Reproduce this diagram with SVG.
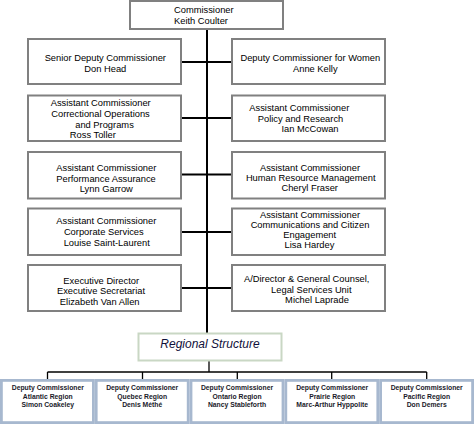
<svg xmlns="http://www.w3.org/2000/svg" width="474" height="424" viewBox="0 0 474 424">
<style>
.bx{fill:#fff;stroke:#808080;stroke-width:2}
.rg{fill:#fff;stroke:#c9d7c4;stroke-width:2}
.rb{fill:#fff;stroke:#a7b8cf;stroke-width:2.8}
.t{font-family:"Liberation Sans",Arial,sans-serif;font-size:9.33px;fill:#000;text-anchor:middle}
.ts{font-family:"Liberation Sans",Arial,sans-serif;font-size:9.33px;fill:#000}
.ti{font-family:"Liberation Sans",Arial,sans-serif;font-size:12px;font-style:italic;fill:#10103a;text-anchor:middle}
.tb{font-family:"Liberation Sans",Arial,sans-serif;font-size:6.8px;font-weight:bold;fill:#1a1a2a;text-anchor:middle}
.c{stroke:#000;stroke-width:2;fill:none}
.c2{stroke:#000;stroke-width:1.3;fill:none}
</style>
<rect width="474" height="424" fill="#fff"/>
<g id="connectors">
<line class="c" x1="207" y1="30" x2="207" y2="333"/>
<line class="c" x1="182" y1="62" x2="231" y2="62"/>
<line class="c" x1="182" y1="118" x2="231" y2="118"/>
<line class="c" x1="182" y1="174.5" x2="231" y2="174.5"/>
<line class="c" x1="182" y1="232" x2="231" y2="232"/>
<line class="c" x1="182" y1="288" x2="231" y2="288"/>
<line class="c2" x1="209" y1="361" x2="209" y2="372"/>
<line class="c2" x1="47.5" y1="372" x2="426.7" y2="372"/>
<line class="c2" x1="47.5" y1="372" x2="47.5" y2="380"/>
<line class="c2" x1="142.5" y1="372" x2="142.5" y2="380"/>
<line class="c2" x1="237.3" y1="372" x2="237.3" y2="380"/>
<line class="c2" x1="331.7" y1="372" x2="331.7" y2="380"/>
<line class="c2" x1="426.7" y1="372" x2="426.7" y2="380"/>
</g>
<g id="commissioner">
<rect class="bx" x="130" y="1" width="153" height="28"/>
<text class="ts" x="174" y="13">Commissioner</text>
<text class="ts" x="174" y="23.5">Keith Coulter</text>
</g>
<g id="senior-deputy">
<rect class="bx" x="28" y="39" width="153" height="45"/>
<text class="t" x="105.3" y="61">Senior Deputy Commissioner</text>
<text class="t" x="105.3" y="71.7">Don Head</text>
</g>
<g id="correctional-ops">
<rect class="bx" x="28" y="95.5" width="153" height="45.5"/>
<text class="t" x="100.7" y="105.5">Assistant Commissioner</text>
<text class="t" x="100.5" y="116.5">Correctional Operations</text>
<text class="t" x="104.5" y="127.8">and Programs</text>
<text class="t" x="92.8" y="138.3">Ross Toller</text>
</g>
<g id="performance">
<rect class="bx" x="28" y="152" width="153" height="46.5"/>
<text class="t" x="106.3" y="170.7">Assistant Commissioner</text>
<text class="t" x="106" y="181.5">Performance Assurance</text>
<text class="t" x="106.3" y="191.7">Lynn Garrow</text>
</g>
<g id="corporate">
<rect class="bx" x="28" y="208.5" width="153" height="46.5"/>
<text class="t" x="106.3" y="224.3">Assistant Commissioner</text>
<text class="t" x="103.8" y="235">Corporate Services</text>
<text class="t" x="106.7" y="245.7">Louise Saint-Laurent</text>
</g>
<g id="exec-director">
<rect class="bx" x="28" y="265" width="153" height="46"/>
<text class="t" x="101.2" y="284.3">Executive Director</text>
<text class="t" x="101" y="294.3">Executive Secretariat</text>
<text class="t" x="99.7" y="305">Elizabeth Van Allen</text>
</g>
<g id="deputy-women">
<rect class="bx" x="232" y="39" width="153" height="45"/>
<text class="t" x="310.3" y="60.7">Deputy Commissioner for Women</text>
<text class="t" x="315.3" y="71.7">Anne Kelly</text>
</g>
<g id="policy">
<rect class="bx" x="232" y="95.5" width="153" height="45.5"/>
<text class="t" x="299.3" y="111">Assistant Commissioner</text>
<text class="t" x="300.5" y="122">Policy and Research</text>
<text class="t" x="310" y="132.3">Ian McCowan</text>
</g>
<g id="hr">
<rect class="bx" x="232" y="152" width="153" height="46.5"/>
<text class="t" x="310" y="170.7">Assistant Commissioner</text>
<text class="t" x="310.7" y="180.7">Human Resource Management</text>
<text class="t" x="309.7" y="191">Cheryl Fraser</text>
</g>
<g id="communications">
<rect class="bx" x="232" y="208.5" width="153" height="46.5"/>
<text class="t" x="310" y="217.7">Assistant Commissioner</text>
<text class="t" x="310" y="227.7">Communications and Citizen</text>
<text class="t" x="309.7" y="238">Engagement</text>
<text class="t" x="309.5" y="248.3">Lisa Hardey</text>
</g>
<g id="legal">
<rect class="bx" x="232" y="265" width="153" height="46"/>
<text class="t" x="306.7" y="282.3">A/Director &amp; General Counsel,</text>
<text class="t" x="311.3" y="292.5">Legal Services Unit</text>
<text class="t" x="317" y="302.7">Michel Laprade</text>
</g>
<g id="regional">
<rect class="rg" x="138.5" y="333.5" width="143" height="27"/>
<text class="ti" x="210" y="347.5">Regional Structure</text>
</g>
<g id="atlantic">
<rect class="rb" x="1.4" y="380.4" width="92" height="42.2"/>
<text class="tb" x="47.8" y="390">Deputy Commissioner</text>
<text class="tb" x="47.8" y="398.5">Atlantic Region</text>
<text class="tb" x="47.8" y="406.8">Simon Coakeley</text>
</g>
<g id="quebec">
<rect class="rb" x="96.2" y="380.4" width="92" height="42.2"/>
<text class="tb" x="142.2" y="390">Deputy Commissioner</text>
<text class="tb" x="142.2" y="398.5">Quebec Region</text>
<text class="tb" x="142.2" y="406.8">Denis Méthé</text>
</g>
<g id="ontario">
<rect class="rb" x="191" y="380.4" width="92" height="42.2"/>
<text class="tb" x="237" y="390">Deputy Commissioner</text>
<text class="tb" x="237" y="398.5">Ontario Region</text>
<text class="tb" x="237" y="406.8">Nancy Stableforth</text>
</g>
<g id="prairie">
<rect class="rb" x="285.8" y="380.4" width="92" height="42.2"/>
<text class="tb" x="332.2" y="390">Deputy Commissioner</text>
<text class="tb" x="332.2" y="398.5">Prairie Region</text>
<text class="tb" x="332.2" y="406.8">Marc-Arthur Hyppolite</text>
</g>
<g id="pacific">
<rect class="rb" x="380.6" y="380.4" width="92" height="42.2"/>
<text class="tb" x="426.7" y="390">Deputy Commissioner</text>
<text class="tb" x="426.7" y="398.5">Pacific Region</text>
<text class="tb" x="426.7" y="406.8">Don Demers</text>
</g>
</svg>
